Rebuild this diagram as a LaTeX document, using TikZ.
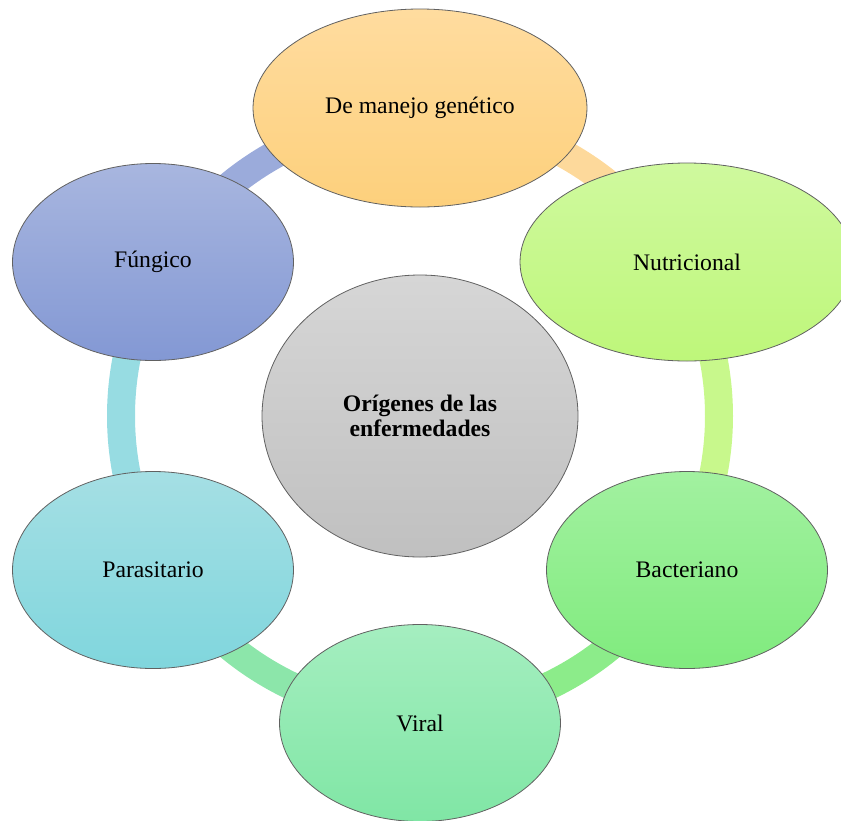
\documentclass[tikz,border=0pt]{standalone}
\usepackage{fontspec}
\setmainfont{Liberation Serif}
\usetikzlibrary{shapes.geometric}
\definecolor{topT}{HTML}{FFDC9F}
\definecolor{topB}{HTML}{FDD07C}
\definecolor{nutT}{HTML}{CFF99E}
\definecolor{nutB}{HTML}{BEF77A}
\definecolor{bacT}{HTML}{A2F1A0}
\definecolor{bacB}{HTML}{80EB7E}
\definecolor{virT}{HTML}{A5EEC0}
\definecolor{virB}{HTML}{80E6A5}
\definecolor{parT}{HTML}{A5DFE4}
\definecolor{parB}{HTML}{80D6DD}
\definecolor{funT}{HTML}{A8B6DF}
\definecolor{funB}{HTML}{8398D4}
\definecolor{cenT}{HTML}{D6D6D6}
\definecolor{cenB}{HTML}{C0C0C0}
\definecolor{rTop}{HTML}{FDD99B}
\definecolor{rNut}{HTML}{C8F88C}
\definecolor{rBac}{HTML}{8CEC8A}
\definecolor{rVir}{HTML}{8CE6AA}
\definecolor{rPar}{HTML}{97DCE2}
\definecolor{rFun}{HTML}{9BABDB}
\begin{document}
\begin{tikzpicture}[x=1pt,y=-1pt,
  bubble/.style={ellipse, draw=black!62, line width=0.8pt, inner sep=0pt,
    align=center, font=\fontsize{23.7}{24.5}\selectfont},
  wide/.style={minimum width=334pt, minimum height=198pt},
  narrow/.style={minimum width=281pt, minimum height=197pt},
  ringseg/.style={line width=28pt}]
\useasboundingbox (0,0) rectangle (841,820);
\clip (0,0) rectangle (841,820);
\node[bubble, minimum width=316pt, minimum height=282pt, top color=cenT, bottom color=cenB,
  font=\bfseries\fontsize{23.7}{24.5}\selectfont] (center) at (420,416) {Orígenes de las\\enfermedades};
\draw[ringseg, rFun] (center.center) ++(150:299pt) arc[start angle=150, end angle=90, radius=299pt];
\draw[ringseg, rTop] (center.center) ++(90:299pt) arc[start angle=90, end angle=30, radius=299pt];
\draw[ringseg, rNut] (center.center) ++(30:299pt) arc[start angle=30, end angle=-30, radius=299pt];
\draw[ringseg, rBac] (center.center) ++(-30:299pt) arc[start angle=-30, end angle=-90, radius=299pt];
\draw[ringseg, rVir] (center.center) ++(-90:299pt) arc[start angle=-90, end angle=-150, radius=299pt];
\draw[ringseg, rPar] (center.center) ++(210:299pt) arc[start angle=210, end angle=150, radius=299pt];
\node[bubble, wide, top color=topT, bottom color=topB] (gen) at (420,108) {De manejo genético};
\node[bubble, wide, top color=nutT, bottom color=nutB] (nut) at (687,262) {Nutricional};
\node[bubble, narrow, top color=bacT, bottom color=bacB] (bac) at (687,570) {Bacteriano};
\node[bubble, narrow, top color=virT, bottom color=virB] (vir) at (420,723) {Viral};
\node[bubble, narrow, top color=parT, bottom color=parB] (par) at (153,570) {Parasitario};
\node[bubble, narrow, top color=funT, bottom color=funB] (fun) at (153,262) {Fúngico};
\end{tikzpicture}
\end{document}
